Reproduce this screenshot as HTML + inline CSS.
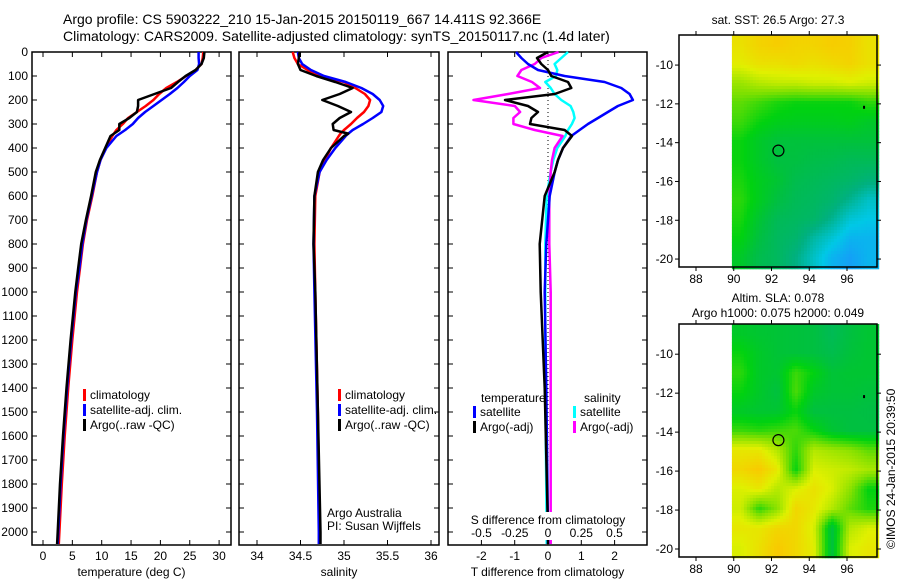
<!DOCTYPE html>
<html><head><meta charset="utf-8">
<style>
html,body{margin:0;padding:0;background:#fff;}
svg{display:block;font-family:"Liberation Sans",Arial,sans-serif;}
</style></head>
<body>
<svg id="fig" width="900" height="580" viewBox="0 0 900 580" xmlns="http://www.w3.org/2000/svg">
<text x="63" y="24" font-size="14">Argo profile: CS 5903222_210 15-Jan-2015 20150119_667 14.411S 92.366E</text>
<text x="63" y="41" font-size="14">Climatology: CARS2009. Satellite-adjusted climatology: synTS_20150117.nc (1.4d later)</text>
<text x="778" y="24" font-size="12" text-anchor="middle">sat. SST: 26.5 Argo: 27.3</text>
<text x="778" y="302" font-size="12" text-anchor="middle">Altim. SLA: 0.078</text>
<text x="778" y="317" font-size="12" text-anchor="middle">Argo h1000: 0.075 h2000: 0.049</text>
<text transform="translate(895,549) rotate(-90)" font-size="12">©IMOS 24-Jan-2015 20:39:50</text>
</svg>
<script>
// ---- data ----
const depthTicks=[0,100,200,300,400,500,600,700,800,900,1000,1100,1200,1300,1400,1500,1600,1700,1800,1900,2000];
const tDepths=[0,25,50,75,100,125,150,175,200,225,250,275,300,325,350,400,450,500,600,700,800,900,1000,1200,1400,1600,1800,2000,2050];
const tempClim=[27.3,27.2,27,26,24.4,22.8,21,19.8,18.8,17.5,16,14.5,13.6,12.5,11.8,10.7,9.8,9.2,8.4,7.5,6.8,6.3,5.8,5.0,4.3,3.7,3.2,2.8,2.7];
const tempSat=[26.5,26.5,26.6,26.3,25,24,22.9,21.6,20.2,18.8,17.4,16.2,15.3,14,12.5,10.8,9.8,9.2,8.3,7.4,6.7,6.2,5.6,4.8,4.1,3.5,3.0,2.6,2.5];
const tempArgo=[27.5,27.4,27,26,24.3,23,21.8,19,16.2,16.2,16,14.7,13,13,11.5,10.6,9.7,9.0,8.2,7.3,6.5,6.0,5.5,4.7,4.0,3.4,2.9,2.5,2.4];
const tempTicks=[0,5,10,15,20,25,30];
const sDepths=[0,25,50,75,100,125,150,175,200,225,250,275,300,325,340,350,400,450,500,600,800,1000,1500,2000,2050];
const salClim=[34.41,34.43,34.47,34.58,34.72,35.0,35.13,35.24,35.3,35.28,35.23,35.15,35.08,35.0,34.96,34.94,34.85,34.78,34.72,34.67,34.66,34.67,34.70,34.72,34.72];
const salSat=[34.47,34.48,34.52,34.62,34.77,35.02,35.2,35.33,35.41,35.45,35.43,35.33,35.22,35.1,35.05,35.02,34.9,34.8,34.72,34.66,34.65,34.66,34.69,34.71,34.71];
const salArgo=[34.49,34.48,34.47,34.5,34.68,34.9,35.1,34.95,34.75,34.93,35.08,34.95,34.87,34.88,35.05,35.0,34.85,34.76,34.7,34.66,34.65,34.67,34.70,34.73,34.73];
const salTicks=[34,34.5,35,35.5,36];
const dDepths=[0,25,50,75,100,125,150,175,200,225,250,275,300,325,350,400,450,500,600,800,1000,1400,2000,2050];
const tdSat=[-0.96,-0.8,-0.6,-0.3,0.5,1.7,2.2,2.45,2.55,2.1,1.8,1.5,1.2,0.95,0.7,0.45,0.3,0.2,0.05,-0.05,-0.1,-0.05,0.0,0.0];
const tdArgo=[0,-0.33,-0.2,0.0,0.1,0.6,0.7,0.2,-1.29,-0.6,-0.3,-0.5,-0.54,0.5,0.72,0.45,0.3,0.2,-0.1,-0.25,-0.22,-0.1,0.0,0.0];
const sdSat=[0.15,0.1,0.05,0.07,0.06,-0.02,0.02,0.05,0.1,0.17,0.19,0.2,0.18,0.15,0.13,0.07,0.04,0.02,-0.01,-0.02,-0.02,-0.02,-0.01,-0.01];
const sdArgo=[0.08,-0.05,-0.1,-0.2,-0.23,-0.12,-0.06,-0.3,-0.56,-0.25,-0.21,-0.26,-0.26,-0.1,0.11,0.05,0.03,0.02,0.01,0.01,0.02,0.02,0.02,0.02];
const tdTicks=[-2,-1,0,1,2];
const sdTicks=[-0.5,-0.25,0,0.25,0.5];
const sdTickLabels=["-0.5","-0.25","0","0.25","0.5"];
const lonTicks=[88,90,92,94,96];
const latTicks=[-10,-12,-14,-16,-18,-20];
const argoLon=92.366, argoLat=-14.411;
const sstGrid=[
[0.9,0.94,0.96,0.94,0.94,0.96,0.95,0.9],
[0.86,0.9,0.9,0.92,0.9,0.92,0.94,0.9],
[0.74,0.78,0.8,0.8,0.82,0.82,0.84,0.82],
[0.66,0.62,0.58,0.56,0.56,0.56,0.56,0.6],
[0.62,0.56,0.53,0.52,0.52,0.52,0.53,0.5],
[0.56,0.5,0.46,0.46,0.46,0.46,0.46,0.46],
[0.56,0.5,0.45,0.45,0.43,0.42,0.4,0.4],
[0.58,0.52,0.48,0.42,0.4,0.38,0.36,0.32],
[0.6,0.52,0.45,0.4,0.38,0.35,0.28,0.2],
[0.58,0.48,0.4,0.38,0.36,0.28,0.18,0.15],
[0.55,0.45,0.38,0.35,0.25,0.18,0.1,0.1],
[0.5,0.42,0.38,0.3,0.2,0.1,0.05,0.1]];
const slaGrid=[
[0.5,0.48,0.47,0.46,0.45,0.4,0.45,0.48],
[0.56,0.5,0.47,0.46,0.45,0.42,0.46,0.48],
[0.6,0.5,0.48,0.62,0.55,0.47,0.48,0.48],
[0.56,0.5,0.45,0.64,0.5,0.47,0.47,0.46],
[0.5,0.48,0.48,0.56,0.45,0.45,0.45,0.44],
[0.62,0.6,0.62,0.64,0.56,0.48,0.45,0.45],
[0.88,0.88,0.78,0.6,0.78,0.75,0.72,0.66],
[0.93,0.97,0.88,0.55,0.84,0.82,0.8,0.76],
[0.84,0.88,0.78,0.84,0.9,0.84,0.72,0.55],
[0.82,0.6,0.72,0.93,0.88,0.78,0.66,0.58],
[0.88,0.88,0.93,0.93,0.84,0.45,0.78,0.84],
[0.84,0.9,0.97,0.93,0.86,0.45,0.84,0.88]];

// ---- helpers ----
const NS="http://www.w3.org/2000/svg";
const svg=document.getElementById('fig');
function mk(tag,attrs,parent){const e=document.createElementNS(NS,tag);for(const k in attrs)e.setAttribute(k,attrs[k]);(parent||svg).appendChild(e);return e;}
const Y0=52, PB=545;
const yD=d=>Y0+d*0.24;

function panel(name,x0,x1,xs,ticks,labels,xlabel,showDepth){
  const g=mk('g',{});
  
  
  const r=mk('rect',{x:x0,y:Y0,width:x1-x0,height:PB-Y0,fill:'none',stroke:'#000','stroke-width':1.5},g);
  
  
  depthTicks.forEach(d=>{
    const y=yD(d);
    mk('line',{x1:x0,x2:x0+5,y1:y,y2:y,stroke:'#000'},g);
    mk('line',{x1:x1-5,x2:x1,y1:y,y2:y,stroke:'#000'},g);
    if(showDepth){const t=mk('text',{x:x0-4,y:y+4,'font-size':12,'text-anchor':'end'},g);t.textContent=d;
      
      }
  });
  ticks.forEach((v,i)=>{
    const x=xs(v);
    mk('line',{x1:x,x2:x,y1:Y0,y2:Y0+5,stroke:'#000'},g);
    mk('line',{x1:x,x2:x,y1:PB-5,y2:PB,stroke:'#000'},g);
    if(labels){const t=mk('text',{x:x,y:PB+15,'font-size':12,'text-anchor':'middle'},g);t.textContent=labels[i];
      
      }
  });
  const t=mk('text',{x:(x0+x1)/2,y:576,'font-size':12,'text-anchor':'middle'},g);t.textContent=xlabel;
  
  
  return g;
}
function line(g,depths,vals,xs,color,name){
  const pts=vals.map((v,i)=>xs(v).toFixed(1)+','+yD(depths[i]).toFixed(1)).join(' ');
  const p=mk('polyline',{points:pts,fill:'none',stroke:color,'stroke-width':2.5,'stroke-linejoin':'round'},g);
  
  
}
function legend(g,x,y,items){
  items.forEach((it,i)=>{
    const yy=y+i*15;
    const b=mk('rect',{x:x,y:yy-10,width:3,height:12,fill:it[1]},g);
    
    
    const t=mk('text',{x:x+7,y:yy,'font-size':12},g);t.textContent=it[0];
    
    
  });
}

// Panel 1 temperature
const xT=v=>43+v*5.87;
const g1=panel('temperature-panel',32,231,xT,tempTicks,tempTicks.map(String),'temperature (deg C)',true);
line(g1,tDepths,tempClim,xT,'#ff0000','temp-climatology-line');
line(g1,tDepths,tempSat,xT,'#0000ff','temp-satellite-line');
line(g1,tDepths,tempArgo,xT,'#000000','temp-argo-line');
legend(g1,83,399,[['climatology','#ff0000'],['satellite-adj. clim.','#0000ff'],['Argo(..raw -QC)','#000000']]);

// Panel 2 salinity
const xS=v=>257+(v-34)*87;
const g2=panel('salinity-panel',239,439,xS,salTicks,salTicks.map(String),'salinity',false);
line(g2,sDepths,salClim,xS,'#ff0000','sal-climatology-line');
line(g2,sDepths,salSat,xS,'#0000ff','sal-satellite-line');
line(g2,sDepths,salArgo,xS,'#000000','sal-argo-line');
legend(g2,338,399,[['climatology','#ff0000'],['satellite-adj. clim.','#0000ff'],['Argo(..raw -QC)','#000000']]);
{const t=mk('text',{x:327,y:517,'font-size':12},g2);t.textContent='Argo Australia';


const t2=mk('text',{x:327,y:530,'font-size':12},g2);t2.textContent='PI: Susan Wijffels';

}

// Panel 3 differences
const xTD=v=>548+v*33.3;
const xSD=v=>548+v*133;
const g3=panel('difference-panel',448,647,xTD,tdTicks,tdTicks.map(String),'T difference from climatology',false);
{const z=mk('line',{x1:548,x2:548,y1:Y0,y2:PB,stroke:'#000','stroke-dasharray':'1,3'},g3);

}
line(g3,dDepths,sdSat,xSD,'#00ffff','sal-diff-satellite-line');
line(g3,dDepths,sdArgo,xSD,'#ff00ff','sal-diff-argo-line');
line(g3,dDepths,tdSat,xTD,'#0000ff','temp-diff-satellite-line');
line(g3,dDepths,tdArgo,xTD,'#000000','temp-diff-argo-line');
{const bg=mk('rect',{x:466,y:512,width:170,height:28,fill:'#fff'},g3);


sdTicks.forEach((v,i)=>{const t=mk('text',{x:xSD(v),y:537,'font-size':12,'text-anchor':'middle'},g3);t.textContent=sdTickLabels[i];

});
const st=mk('text',{x:548,y:524,'font-size':12,'text-anchor':'middle'},g3);st.textContent='S difference from climatology';

}
{const t=mk('text',{x:481,y:402,'font-size':12},g3);t.textContent='temperature';


const t2=mk('text',{x:584,y:402,'font-size':12},g3);t2.textContent='salinity';

}
legend(g3,473,416,[['satellite','#0000ff'],['Argo(-adj)','#000000']]);
legend(g3,573,416,[['satellite','#00ffff'],['Argo(-adj)','#ff00ff']]);

// ---- maps ----
const stops=[[0,[30,140,255]],[0.15,[0,200,230]],[0.3,[0,176,128]],[0.45,[0,192,64]],[0.55,[0,210,16]],[0.7,[128,224,0]],[0.85,[224,240,0]],[1,[255,192,0]]];
function cmap(v){v=Math.max(0,Math.min(1,v));for(let i=1;i<stops.length;i++){if(v<=stops[i][0]){const a=stops[i-1],b=stops[i];const f=(v-a[0])/(b[0]-a[0]);const c=a[1].map((x,k)=>Math.round(x+(b[1][k]-x)*f));return 'rgb('+c.join(',')+')';}}return 'rgb(255,192,0)';}
function bil(grid,fx,fy){const R=grid.length,C=grid[0].length;fx=Math.max(0,Math.min(C-1,fx));fy=Math.max(0,Math.min(R-1,fy));
  const x0=Math.floor(fx),y0=Math.floor(fy),x1=Math.min(C-1,x0+1),y1=Math.min(R-1,y0+1);const dx=fx-x0,dy=fy-y0;
  return grid[y0][x0]*(1-dx)*(1-dy)+grid[y0][x1]*dx*(1-dy)+grid[y1][x0]*(1-dx)*dy+grid[y1][x1]*dx*dy;}
function map(name,top,bottom,grid,cell){
  const g=mk('g',{});
  
  
  const L=679,R=877;
  const lon2x=lo=>696+(lo-88)*18.875;
  const pxPerLat=(bottom-top)/(20.41-8.45);
  const lat2y=la=>top+(-8.45-la)*pxPerLat;
  const dataX0=lon2x(89.9);
  const C=grid[0].length,Rn=grid.length;
  for(let y=top;y<bottom;y+=cell){
    for(let x=dataX0;x<R;x+=cell){
      const lo=88+(x+cell/2-696)/18.875, la=-8.45-(y+cell/2-top)/pxPerLat;
      const fx=(lo-89.9)/(97.6-89.9)*C-0.5, fy=(-8.45-la)/(20.41-8.45)*Rn-0.5;
      mk('rect',{x:x.toFixed(1),y:y,width:cell+0.3,height:cell+0.3,fill:cmap(bil(grid,fx,fy))},g);
    }
  }
  const fr=mk('rect',{x:L,y:top,width:R-L,height:bottom-top,fill:'none',stroke:'#000','stroke-width':1.5},g);
  
  
  lonTicks.forEach(lo=>{const x=lon2x(lo);mk('line',{x1:x,x2:x,y1:top-4,y2:top,stroke:'#000'},g);mk('line',{x1:x,x2:x,y1:bottom,y2:bottom+4,stroke:'#000'},g);
    const t=mk('text',{x:x,y:bottom+16,'font-size':12,'text-anchor':'middle'},g);t.textContent=lo;
    
    });
  latTicks.forEach(la=>{const y=lat2y(la);mk('line',{x1:L-4,x2:L,y1:y,y2:y,stroke:'#000'},g);mk('line',{x1:R,x2:R+4,y1:y,y2:y,stroke:'#000'},g);
    const t=mk('text',{x:L-6,y:y+4,'font-size':12,'text-anchor':'end'},g);t.textContent=la;
    
    });
  const c=mk('circle',{cx:lon2x(argoLon),cy:lat2y(argoLat),r:5.5,fill:'none',stroke:'#000','stroke-width':1.2},g);
  
  
  const isl=mk('rect',{x:lon2x(96.85),y:lat2y(-12.1),width:2,height:3,fill:'#000'},g);
  
  
}
map('sst-map',35,267,sstGrid,3);
map('sla-map',324,557,slaGrid,3);
</script>
</body></html>
